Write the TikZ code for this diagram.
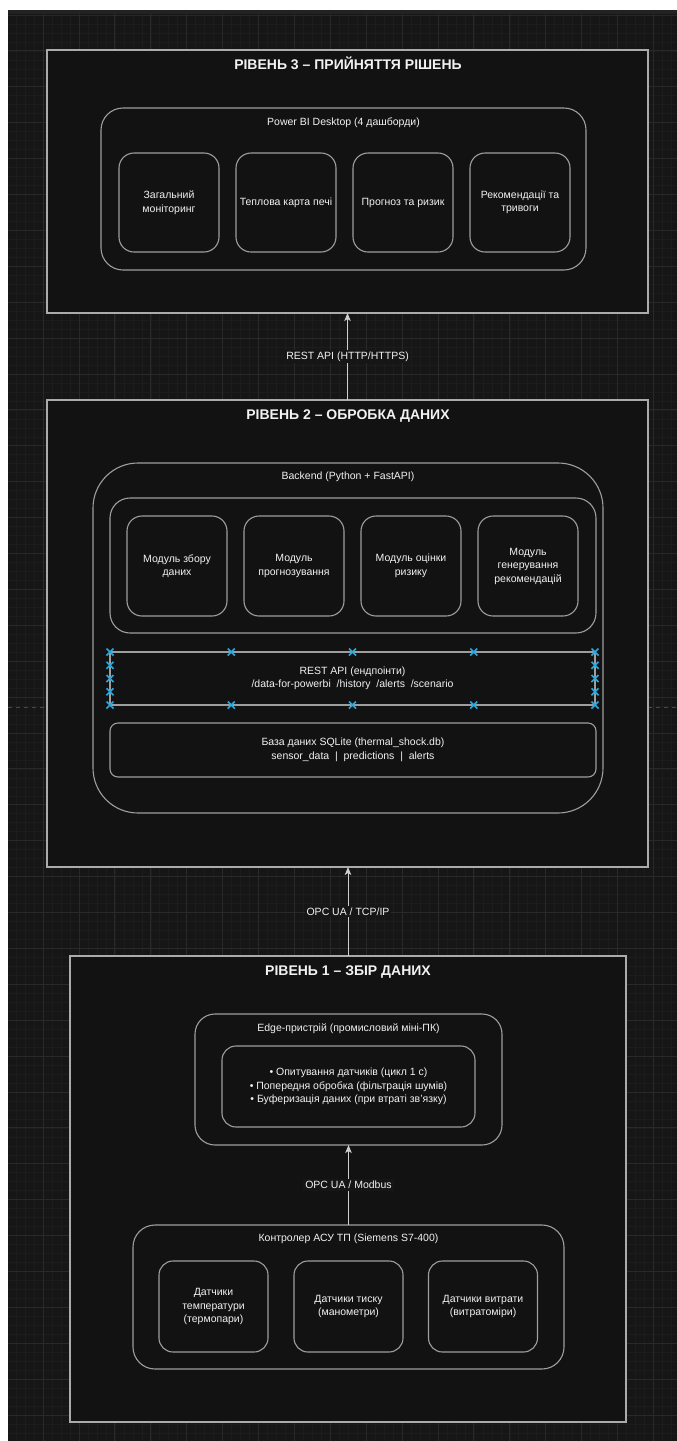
\documentclass[tikz,border=0pt]{standalone}
\usepackage{fontspec}
\setmainfont{Liberation Sans}
\usetikzlibrary{arrows.meta,calc}

\definecolor{canvas}{HTML}{161616}
\definecolor{gridminor}{HTML}{1C1C1C}
\definecolor{gridmajor}{HTML}{292929}
\definecolor{panel}{HTML}{121212}
\definecolor{frame}{HTML}{ABABAB}
\definecolor{cardline}{HTML}{9E9E9E}
\definecolor{wire}{HTML}{CFCFCF}
\definecolor{handle}{HTML}{2AA8E0}
\definecolor{ink}{HTML}{F2F2F2}
\definecolor{topband}{HTML}{222222}
\definecolor{pagebreak}{HTML}{4A4A4A}

\newcommand\leveltitlefont{\bfseries\fontsize{14}{16}\selectfont}
\newcommand\bodytextfont{\fontsize{10.5}{13.5}\selectfont}

\begin{document}
\begin{tikzpicture}[x=1pt,y=-1pt,
  levelbox/.style={draw=frame, line width=1.6pt, fill=panel, rectangle, inner sep=0pt, outer sep=0pt},
  card/.style={draw=cardline, line width=1.1pt, rectangle, inner sep=0pt, outer sep=0pt,
    align=center, text=ink, font=\bodytextfont},
  leveltitle/.style={text=ink, font=\leveltitlefont, inner sep=0pt, anchor=base},
  boxcap/.style={text=ink, font=\bodytextfont, inner sep=0pt, anchor=base},
  link/.style={draw=wire, line width=1pt, -{Stealth[length=8pt,width=6.5pt,inset=2pt]}},
  linklabel/.style={fill=canvas, text=ink, font=\bodytextfont, inner sep=2pt},
  handlemark/.style={draw=handle, line width=1.7pt}
]
\useasboundingbox (0,0) rectangle (677,1441);

% canvas with grid
\fill[white] (0,0) rectangle (677,1441);
\fill[canvas] (8,10) rectangle (677,1441);
\begin{scope}
  \clip (8,10) rectangle (677,1441);
  \foreach \i in {0,...,75} \draw[gridminor, line width=0.6pt] ({7.2+\i*8.975},10) -- ({7.2+\i*8.975},1441);
  \foreach \i in {0,...,161} \draw[gridminor, line width=0.6pt] (8,{6.0+\i*8.975}) -- (677,{6.0+\i*8.975});
  \foreach \i in {0,...,19} \draw[gridmajor, line width=0.9pt] ({7.2+\i*35.9},10) -- ({7.2+\i*35.9},1441);
  \foreach \i in {0,...,40} \draw[gridmajor, line width=0.9pt] (8,{15+\i*35.9}) -- (677,{15+\i*35.9});
\end{scope}
\fill[topband] (8,10) rectangle (677,14);
\draw[pagebreak, line width=0.8pt, dash pattern=on 4pt off 4pt] (8,707) -- (677,707);

% ---------- Level 3 ----------
\node[levelbox, minimum width=601pt, minimum height=263pt] (l3) at (347.5,181.5) {};
\node[leveltitle] (l3t) at (348,69) {РІВЕНЬ 3 – ПРИЙНЯТТЯ РІШЕНЬ};
\node[card, rounded corners=22pt, minimum width=485pt, minimum height=162pt] (pbi) at (343.5,189) {};
\node[boxcap] (pbit) at (343.5,125) {Power BI Desktop (4 дашборди)};
\node[card, rounded corners=15pt, minimum width=100pt, minimum height=99pt] (d1) at (169,202.5) {Загальний\\моніторинг};
\node[card, rounded corners=15pt, minimum width=100pt, minimum height=99pt] (d2) at (286,202.5) {Теплова карта печі};
\node[card, rounded corners=15pt, minimum width=100pt, minimum height=99pt] (d3) at (403,202.5) {Прогноз та ризик};
\node[card, rounded corners=15pt, minimum width=100pt, minimum height=99pt] (d4) at (520,202.5) {Рекомендації та\\тривоги};

% ---------- Level 2 ----------
\node[levelbox, minimum width=601pt, minimum height=467pt] (l2) at (347.5,633.5) {};
\node[leveltitle] (l2t) at (348,419) {РІВЕНЬ 2 – ОБРОБКА ДАНИХ};
\node[card, rounded corners=45pt, minimum width=510pt, minimum height=350pt] (backend) at (348,638) {};
\node[boxcap] (backendt) at (348,479) {Backend (Python + FastAPI)};
\node[card, rounded corners=20pt, minimum width=486pt, minimum height=135pt] (mods) at (353,565.5) {};
\node[card, rounded corners=15pt, minimum width=100pt, minimum height=100pt] (m1) at (177,566) {Модуль збору\\даних};
\node[card, rounded corners=15pt, minimum width=100pt, minimum height=100pt] (m2) at (294,566) {Модуль\\прогнозування};
\node[card, rounded corners=15pt, minimum width=100pt, minimum height=100pt] (m3) at (411,566) {Модуль оцінки\\ризику};
\node[card, rounded corners=15pt, minimum width=100pt, minimum height=100pt] (m4) at (528,566) {Модуль\\генерування\\рекомендацій};
\node[card, minimum width=485pt, minimum height=53pt] (api) at (352.5,678.5)
  {REST API (ендпоінти)\\/data-for-powerbi\ \ /history\ \ /alerts\ \ /scenario};
% connection handles around the endpoint strip
\foreach \f in {0,0.25,0.5,0.75,1} {
  \draw[handlemark] ($(api.north west)!\f!(api.north east)$) +(-3.5,-3.5) -- +(3.5,3.5) +(-3.5,3.5) -- +(3.5,-3.5);
  \draw[handlemark] ($(api.south west)!\f!(api.south east)$) +(-3.5,-3.5) -- +(3.5,3.5) +(-3.5,3.5) -- +(3.5,-3.5);
}
\foreach \f in {0.25,0.5,0.75} {
  \draw[handlemark] ($(api.north west)!\f!(api.south west)$) +(-3.5,-3.5) -- +(3.5,3.5) +(-3.5,3.5) -- +(3.5,-3.5);
  \draw[handlemark] ($(api.north east)!\f!(api.south east)$) +(-3.5,-3.5) -- +(3.5,3.5) +(-3.5,3.5) -- +(3.5,-3.5);
}
\node[card, rounded corners=8pt, minimum width=486pt, minimum height=54pt] (db) at (353,750)
  {База даних SQLite (thermal\_shock.db)\\sensor\_data\ \ |\ \ predictions\ \ |\ \ alerts};

% ---------- Level 1 ----------
\node[levelbox, minimum width=556pt, minimum height=466pt] (l1) at (348,1189) {};
\node[leveltitle] (l1t) at (348,975) {РІВЕНЬ 1 – ЗБІР ДАНИХ};
\node[card, rounded corners=20pt, minimum width=307pt, minimum height=131pt] (edgepc) at (348.5,1079.5) {};
\node[boxcap] (edgepct) at (348.5,1031) {Edge-пристрій (промисловий міні-ПК)};
\node[card, rounded corners=14pt, minimum width=253pt, minimum height=81pt] (tasks) at (348.5,1086.5)
  {• Опитування датчиків (цикл 1 с)\\• Попередня обробка (фільтрація шумів)\\• Буферизація даних (при втраті зв'язку)};
\node[card, rounded corners=22pt, minimum width=431pt, minimum height=144pt] (ctrl) at (348.5,1297) {};
\node[boxcap] (ctrlt) at (348.5,1241) {Контролер АСУ ТП (Siemens S7-400)};
\node[card, rounded corners=14pt, minimum width=109pt, minimum height=91pt] (s1) at (213.5,1306.5) {Датчики\\температури\\(термопари)};
\node[card, rounded corners=14pt, minimum width=109pt, minimum height=91pt] (s2) at (348.5,1306.5) {Датчики тиску\\(манометри)};
\node[card, rounded corners=14pt, minimum width=109pt, minimum height=91pt] (s3) at (483,1306.5) {Датчики витрати\\(витратоміри)};

% ---------- connectors ----------
\draw[link] (l2.north) -- node[linklabel] (lk1) {REST API (HTTP/HTTPS)} (l2.north |- l3.south);
\draw[link] (l1.north) -- node[linklabel] (lk2) {OPC UA / TCP/IP} (l1.north |- l2.south);
\draw[link] (ctrl.north) -- node[linklabel] (lk3) {OPC UA / Modbus} (ctrl.north |- edgepc.south);
\end{tikzpicture}
\end{document}
